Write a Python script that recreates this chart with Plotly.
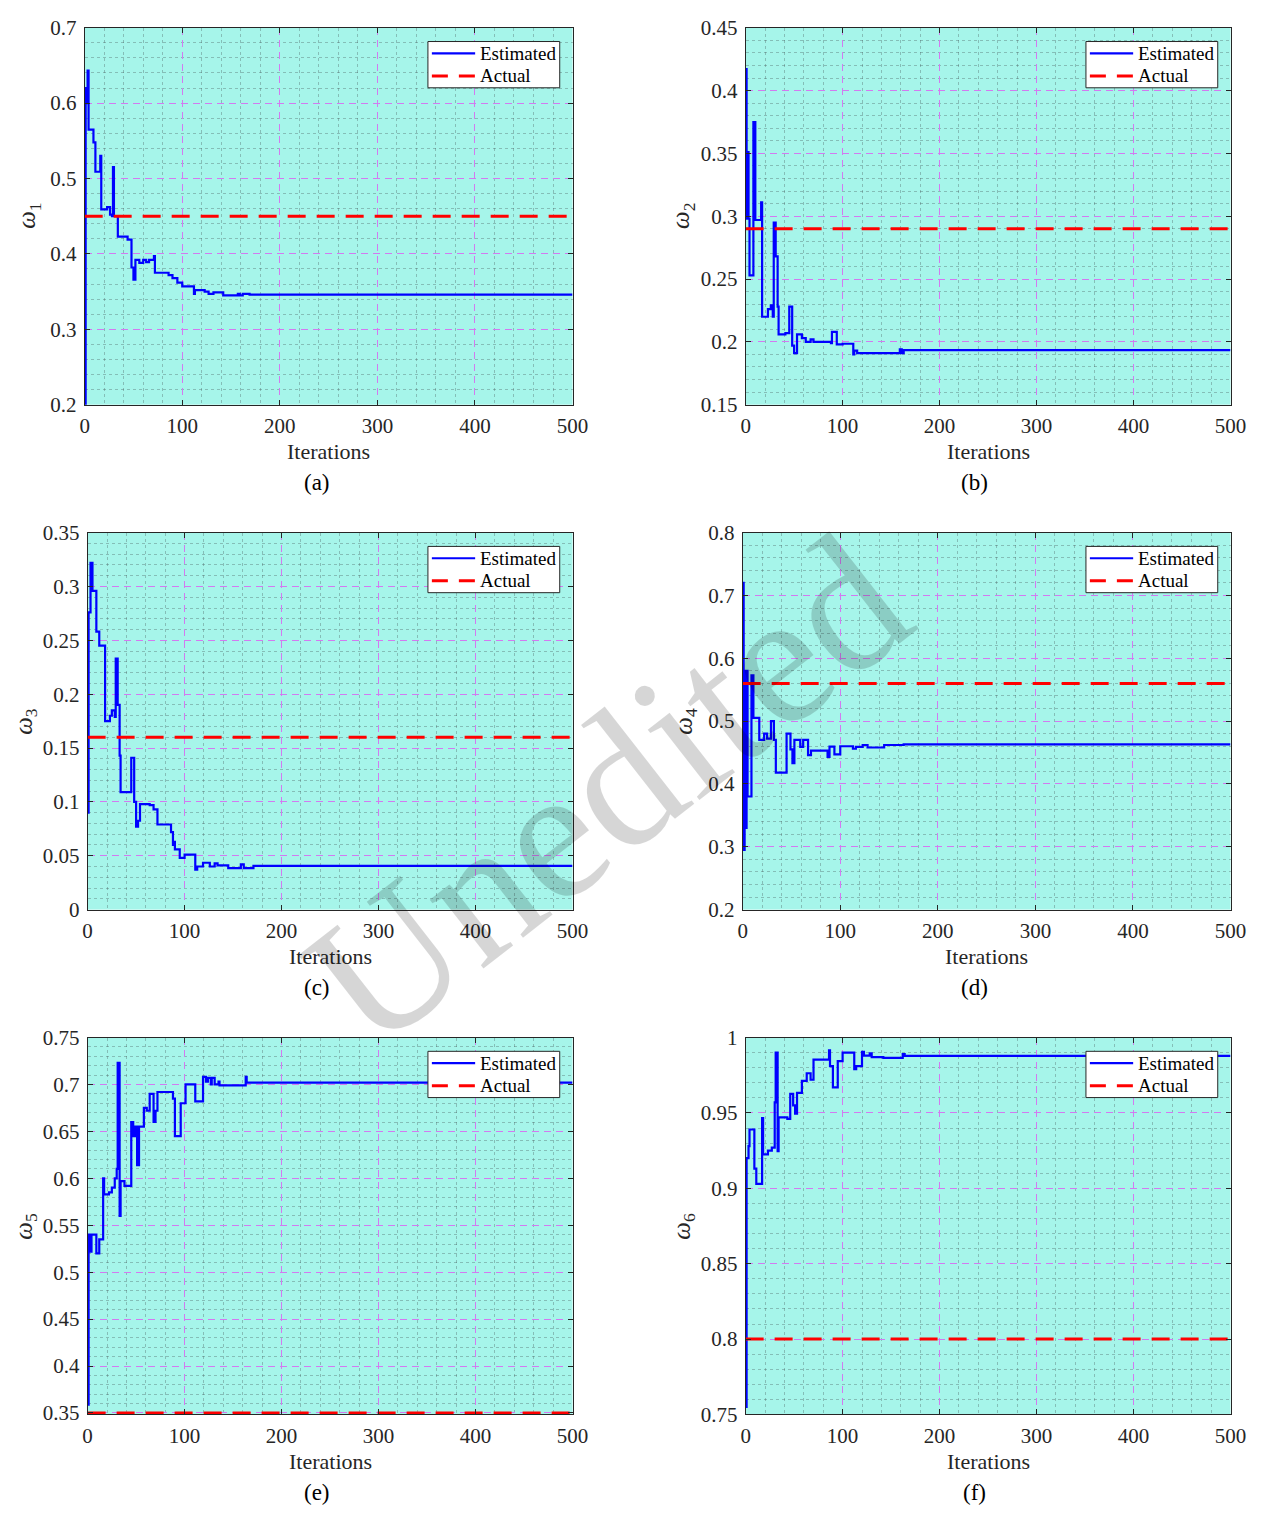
import plotly.graph_objects as go

# ---------------- data: estimated weights (step breakpoints) and true values ----------------
# omega_1
it_w1 = [0, 1, 2, 3, 4, 9, 11, 16, 17, 23, 26, 28, 29, 30, 34, 44, 48, 50, 52, 56, 60, 63, 66,
         71, 72, 86, 90, 95, 100, 112, 113, 123, 127, 132, 142, 157, 159, 162, 169, 500]
w1_est = [0.2, 0.62, 0.6, 0.643, 0.565, 0.548, 0.509, 0.53, 0.459, 0.462, 0.452, 0.45, 0.515,
          0.45, 0.423, 0.419, 0.382, 0.366, 0.392, 0.388, 0.392, 0.389, 0.392, 0.397, 0.375,
          0.372, 0.368, 0.362, 0.357, 0.347, 0.352, 0.35, 0.347, 0.349, 0.345, 0.347, 0.345,
          0.347, 0.346, 0.346]
w1_true = 0.45

# omega_2
it_w2 = [0, 1, 2, 3, 4, 8, 10, 16, 17, 23, 26, 28, 29, 31, 33, 34, 41, 45, 48, 50, 53, 58, 62,
         67, 70, 88, 89, 94, 100, 111, 112, 115, 159, 161, 163, 500]
w2_est = [0.417, 0.298, 0.351, 0.298, 0.253, 0.375, 0.297, 0.311, 0.22, 0.226, 0.229, 0.22,
          0.295, 0.268, 0.228, 0.206, 0.207, 0.228, 0.197, 0.191, 0.206, 0.203, 0.2, 0.202, 0.2,
          0.199, 0.208, 0.198, 0.1985, 0.19, 0.193, 0.191, 0.194, 0.191, 0.1935, 0.1935]
w2_true = 0.29

# omega_3
it_w3 = [0, 1, 3, 5, 9, 12, 18, 23, 25, 28, 29, 31, 33, 34, 45, 48, 50, 52, 54, 64, 68, 72,
         86, 88, 89, 90, 95, 100, 111, 113, 119, 126, 131, 134, 145, 158, 161, 171, 500]
w3_est = [0.09, 0.276, 0.322, 0.296, 0.258, 0.245, 0.175, 0.18, 0.185, 0.179, 0.233, 0.19,
          0.143, 0.109, 0.141, 0.1, 0.077, 0.0825, 0.098, 0.097, 0.093, 0.079, 0.072, 0.06,
          0.063, 0.056, 0.048, 0.051, 0.037, 0.04, 0.0435, 0.04, 0.043, 0.041, 0.0385, 0.042,
          0.0385, 0.0405, 0.0405]
w3_true = 0.16

# omega_4
it_w4 = [0, 1, 2, 3, 4, 5, 9, 11, 17, 22, 25, 29, 32, 34, 45, 49, 51, 53, 59, 62, 67, 70, 87,
         89, 94, 100, 113, 116, 123, 128, 145, 165, 500]
w4_est = [0.72, 0.295, 0.58, 0.33, 0.58, 0.38, 0.573, 0.505, 0.47, 0.48, 0.472, 0.5, 0.47,
          0.418, 0.48, 0.455, 0.433, 0.47, 0.459, 0.47, 0.446, 0.453, 0.443, 0.4595, 0.447,
          0.46, 0.456, 0.459, 0.462, 0.458, 0.462, 0.463, 0.463]
w4_true = 0.56

# omega_5
it_w5 = [0, 1, 3, 4, 9, 12, 16, 17, 22, 25, 28, 30, 31, 32, 33, 34, 38, 45, 47, 49, 51, 53,
         58, 61, 64, 68, 70, 72, 88, 90, 96, 101, 111, 119, 122, 124, 127, 128, 131, 135, 136,
         163, 164, 500]
w5_est = [0.359, 0.54, 0.522, 0.54, 0.52, 0.535, 0.6, 0.583, 0.585, 0.59, 0.6, 0.61, 0.723,
          0.723, 0.56, 0.597, 0.592, 0.66, 0.645, 0.655, 0.614, 0.655, 0.675, 0.672, 0.69, 0.66,
          0.672, 0.692, 0.685, 0.645, 0.68, 0.7, 0.682, 0.708, 0.703, 0.707, 0.7, 0.707, 0.7,
          0.703, 0.699, 0.708, 0.702, 0.702]
w5_true = 0.35

# omega_6
it_w6 = [0, 1, 3, 4, 9, 11, 17, 18, 23, 27, 30, 31, 33, 34, 43, 46, 49, 51, 53, 58, 63, 67,
         70, 86, 87, 90, 95, 100, 112, 114, 120, 122, 128, 130, 142, 162, 164, 500]
w6_est = [0.755, 0.92, 0.928, 0.939, 0.913, 0.903, 0.9465, 0.9225, 0.925, 0.927, 0.957, 0.99,
          0.9247, 0.947, 0.946, 0.9626, 0.955, 0.9495, 0.9633, 0.9713, 0.9763, 0.972, 0.9854,
          0.9915, 0.981, 0.9669, 0.9843, 0.99, 0.9791, 0.981, 0.9905, 0.988, 0.9895, 0.987,
          0.9865, 0.989, 0.9878, 0.9878]
w6_true = 0.8

n_iter = 500
panel_tags = ["(a)", "(b)", "(c)", "(d)", "(e)", "(f)"]
y_ranges = [(0.2, 0.7), (0.15, 0.45), (0.0, 0.35), (0.2, 0.8), (0.35, 0.75), (0.75, 1.0)]
y_steps = [0.1, 0.05, 0.05, 0.1, 0.05, 0.05]
legend_names = ["Estimated", "Actual"]

series = [
    (it_w1, w1_est, w1_true),
    (it_w2, w2_est, w2_true),
    (it_w3, w3_est, w3_true),
    (it_w4, w4_est, w4_true),
    (it_w5, w5_est, w5_true),
    (it_w6, w6_est, w6_true),
]

# ---------------- layout geometry (pixels) ----------------
W, H = 1278, 1519
# plot-area boxes: left, right, top, bottom
boxes = [
    (81, 577, 16, 399), (753, 1246, 16, 399),
    (84, 577, 529, 912), (750, 1246, 529, 912),
    (84, 577, 1042, 1425), (753, 1246, 1042, 1425),
]
ylabel_x = [24, 689, 20, 691, 20, 689]
tag_x = [317, 986, 317, 986, 317, 986]

FONT = "Liberation Serif"
AX_COL = "#262626"
BG = "#a6f5ea"
MAJOR_GRID = "#d27af0"
MINOR_GRID = "rgba(70,90,90,0.35)"
EST_COL = "#0000ff"
TRUE_COL = "#ff0000"
TRUE_DASH = "18px,11px"


def fx(px):
    return px / W


def fy(py):
    return 1 - py / H


fig = go.Figure()
annotations = []
shapes = []
layout_extra = {}

for i, ((its, est, true_val), (l, r, t, b)) in enumerate(zip(series, boxes)):
    k = i + 1
    xa = "x" if k == 1 else f"x{k}"
    ya = "y" if k == 1 else f"y{k}"

    fig.add_trace(go.Scatter(
        x=its, y=est, mode="lines", line=dict(color=EST_COL, width=2.2, shape="hv"),
        name=legend_names[0], xaxis=xa, yaxis=ya, showlegend=False,
    ))
    fig.add_trace(go.Scatter(
        x=[0, n_iter], y=[true_val, true_val], mode="lines",
        line=dict(color=TRUE_COL, width=3, dash=TRUE_DASH),
        name=legend_names[1], xaxis=xa, yaxis=ya, showlegend=False,
    ))

    axis_common = dict(
        showline=True, linecolor=AX_COL, linewidth=1, mirror="ticks",
        ticks="inside", ticklen=5, tickcolor=AX_COL, tickwidth=1,
        showgrid=True, gridcolor=MAJOR_GRID, gridwidth=1, griddash="7px,5px",
        zeroline=False,
        tickfont=dict(family=FONT, size=21, color=AX_COL),
    )
    layout_extra["xaxis" if k == 1 else f"xaxis{k}"] = dict(
        axis_common, domain=[fx(l), fx(r)], anchor=ya,
        range=[0, n_iter], tick0=0, dtick=100, ticklabelstandoff=2,
        minor=dict(dtick=20, showgrid=True, gridcolor=MINOR_GRID, griddash="dot", gridwidth=1),
    )
    lo, hi = y_ranges[i]
    # a hair of headroom below the lowest tick so a line sitting on it is not half clipped
    pad = (hi - lo) * 0.004 if abs(true_val - lo) < 1e-9 else 0.0
    layout_extra["yaxis" if k == 1 else f"yaxis{k}"] = dict(
        axis_common, domain=[fy(b), fy(t)], anchor=xa,
        range=[lo - pad, hi], tick0=lo, dtick=y_steps[i], ticklabelstandoff=3,
        minor=dict(dtick=y_steps[i] / 5, tick0=lo, showgrid=True, gridcolor=MINOR_GRID,
                   griddash="dot", gridwidth=1),
    )

    # legend box in the upper-right corner of each panel
    shapes.append(dict(
        type="rect", xref="paper", yref="paper",
        x0=fx(r - 147), x1=fx(r - 13), y0=fy(t + 61), y1=fy(t + 14),
        fillcolor="white", line=dict(color=AX_COL, width=1), layer="above",
    ))
    shapes.append(dict(
        type="line", xref="paper", yref="paper",
        x0=fx(r - 143), x1=fx(r - 99), y0=fy(t + 26), y1=fy(t + 26),
        line=dict(color=EST_COL, width=2.2), layer="above",
    ))
    shapes.append(dict(
        type="line", xref="paper", yref="paper",
        x0=fx(r - 143), x1=fx(r - 99), y0=fy(t + 49), y1=fy(t + 49),
        line=dict(color=TRUE_COL, width=3, dash="16px,11px"), layer="above",
    ))
    for j, row_y in enumerate((t + 26, t + 49)):
        annotations.append(dict(
            text=legend_names[j], x=fx(r - 96), y=fy(row_y), xref="paper", yref="paper",
            showarrow=False, xanchor="left", yanchor="middle",
            font=dict(family=FONT, size=19, color="black"),
        ))

    cx = (l + r) / 2
    annotations.append(dict(
        text="Iterations", x=fx(cx), y=fy(b + 48), xref="paper", yref="paper",
        showarrow=False, xanchor="center", yanchor="middle",
        font=dict(family=FONT, size=22, color=AX_COL),
    ))
    annotations.append(dict(
        text=panel_tags[i], x=fx(tag_x[i]), y=fy(b + 79), xref="paper", yref="paper",
        showarrow=False, xanchor="center", yanchor="middle",
        font=dict(family=FONT, size=23, color="black"),
    ))
    annotations.append(dict(
        text=f"<i>ω</i><sub>{k}</sub>", x=fx(ylabel_x[i]), y=fy((t + b) / 2),
        xref="paper", yref="paper", showarrow=False, textangle=-90,
        xanchor="center", yanchor="middle",
        font=dict(family=FONT, size=25, color=AX_COL),
    ))

# diagonal watermark across the middle of the figure
annotations.append(dict(
    text="Unedited", x=fx(612), y=fy(792), xref="paper", yref="paper",
    showarrow=False, textangle=-38, xanchor="center", yanchor="middle",
    font=dict(family=FONT, size=190, color="rgba(0,0,0,0.16)"),
))

fig.update_layout(
    width=W, height=H, autosize=False,
    margin=dict(l=0, r=0, t=0, b=0),
    paper_bgcolor="white", plot_bgcolor=BG,
    showlegend=False,
    annotations=annotations,
    shapes=shapes,
    **layout_extra,
)

# the figure fills the page exactly, so drop the browser's default body margin
page_css = (
    "document.documentElement.style.margin='0';"
    "document.documentElement.style.padding='0';"
    "document.documentElement.style.overflow='hidden';"
    "document.body.style.margin='0';"
    "document.body.style.padding='0';"
    "document.body.style.overflow='hidden';"
)
fig.write_html("out.html", post_script=page_css, config={"responsive": False})
